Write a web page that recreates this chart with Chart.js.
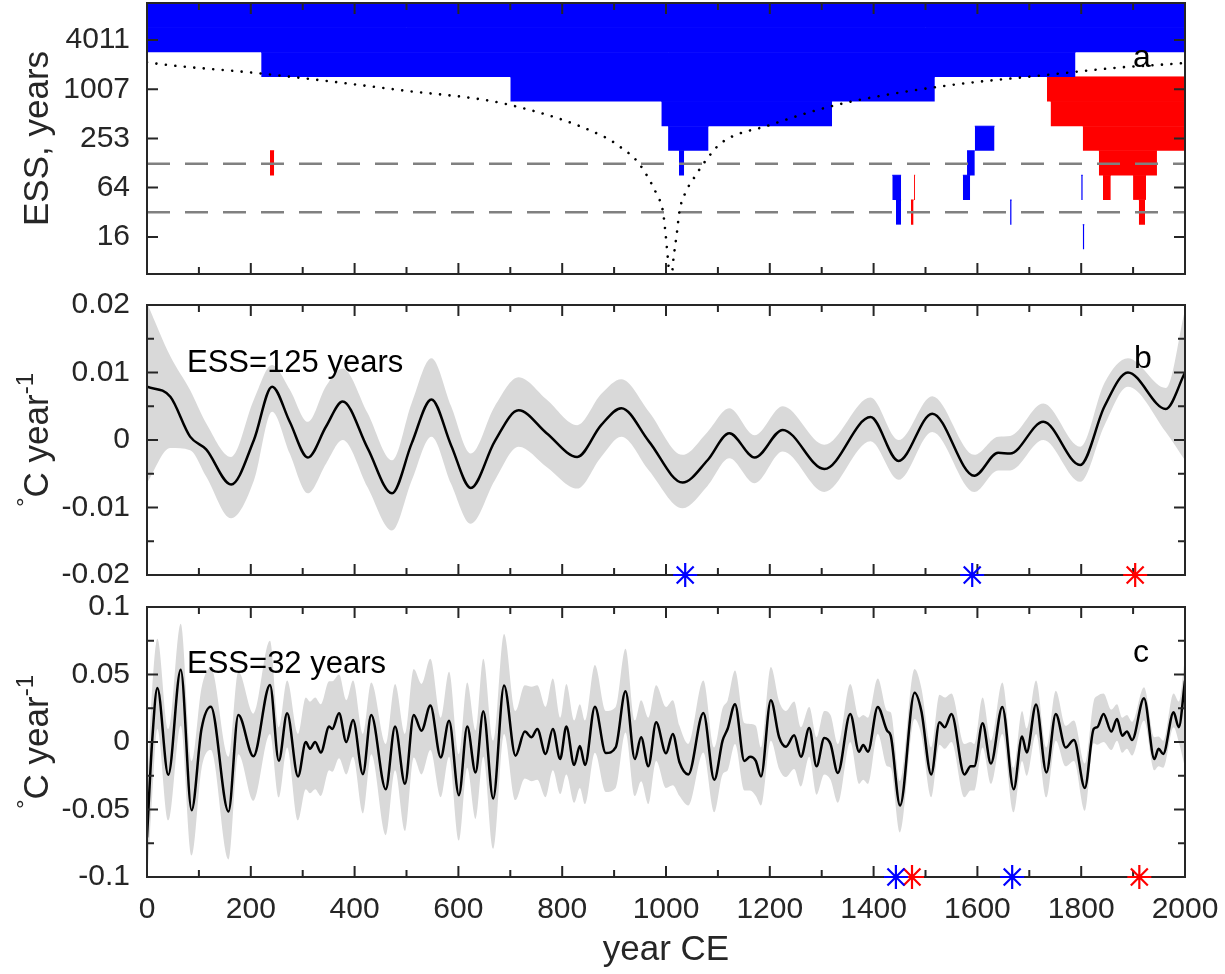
<!DOCTYPE html>
<html>
<head>
<meta charset="utf-8">
<script src="https://cdn.jsdelivr.net/npm/chart.js@4.4.1/dist/chart.umd.min.js"></script>
<style>
    body { margin: 0; background: #fff; }
    #wrap { position: relative; width: 1225px; height: 974px; background: #fff; }
    canvas { position: absolute; left: 0; }
</style>
</head>
<body>
<div id="wrap">
    <canvas id="pa" width="1225" height="290" style="top:0px"></canvas>
    <canvas id="pb" width="1225" height="300" style="top:290px"></canvas>
    <canvas id="pc" width="1225" height="384" style="top:590px"></canvas>
</div>
<script>
// ---------- panel a: ESS map ----------
const essTicks = [16, 64, 253, 1007, 4011];
// [row ESS, start year, end year]
const blueCells = [
    [8000, 0, 2000], [4011, 0, 2000], [2009, 220, 1789], [1007, 700, 1518],
    [505, 991, 1320], [253, 1004, 1082], [253, 1595, 1633],
    [127, 1025, 1035], [127, 1580, 1595],
    [64, 1436, 1453], [64, 1572, 1586], [64, 1800, 1803],
    [32, 1443, 1453], [32, 1663, 1666], [16, 1803, 1806]
];
const redCells = [
    [1007, 1734, 2000], [505, 1741, 2000], [253, 1803, 2000],
    [127, 1834, 1946], [127, 237, 245],
    [64, 1842, 1857], [64, 1900, 1925], [64, 1478, 1480],
    [32, 1911, 1923], [32, 1472, 1477]
];
const refEss = [125, 32];
const dotYears = [0, 14, 220, 484, 700, 884, 908, 944, 965, 982, 994, 999, 1004, 1009, 1014, 1021, 1026, 1036, 1055, 1076, 1105, 1198, 1328, 1525, 1740, 1875, 1990, 2000];
const dotEss = [2150, 2080, 1565, 990, 648, 260, 208, 135, 86, 53, 33, 18, 8.3, 4, 8.3, 18, 33, 53, 86, 135, 220, 366, 648, 1080, 1520, 1856, 2080, 2110];

// ---------- panel b: ESS = 125 years ----------
const bYears = [0, 45, 83, 114, 162, 206, 241, 275, 310, 345, 377, 425, 472, 510, 548, 586, 624, 670, 716, 770, 829, 875, 914, 967, 1032, 1080, 1122, 1171, 1225, 1305, 1394, 1448, 1513, 1594, 1640, 1663, 1727, 1798, 1845, 1890, 1963, 2000];
const bMean = [0.0079, 0.0064, 0.0005, -0.0014, -0.0066, 0.0000, 0.0079, 0.0027, -0.0026, 0.0020, 0.0057, -0.0012, -0.0079, -0.0005, 0.0060, -0.0008, -0.0071, -0.0002, 0.0044, 0.0010, -0.0025, 0.0022, 0.0047, -0.0002, -0.0063, -0.0030, 0.0010, -0.0026, 0.0015, -0.0043, 0.0034, -0.0031, 0.0039, -0.0053, -0.0019, -0.0020, 0.0027, -0.0037, 0.0050, 0.0100, 0.0046, 0.0100];
const bUpper = [0.0203, 0.0124, 0.0074, 0.0025, -0.0025, 0.0060, 0.0111, 0.0075, 0.0027, 0.0080, 0.0106, 0.0040, -0.0030, 0.0055, 0.0121, 0.0050, -0.0020, 0.0050, 0.0093, 0.0060, 0.0022, 0.0068, 0.0090, 0.0042, -0.0022, 0.0012, 0.0047, 0.0007, 0.0050, -0.0007, 0.0063, 0.0000, 0.0065, -0.0022, 0.0005, 0.0006, 0.0054, -0.0010, 0.0085, 0.0121, 0.0077, 0.0193];
const bLower = [-0.0064, -0.0012, -0.0015, -0.0054, -0.0116, -0.0060, 0.0042, -0.0020, -0.0079, -0.0035, 0.0000, -0.0070, -0.0134, -0.0060, 0.0005, -0.0065, -0.0124, -0.0060, -0.0010, -0.0040, -0.0072, -0.0025, 0.0005, -0.0045, -0.0101, -0.0068, -0.0027, -0.0064, -0.0017, -0.0077, -0.0002, -0.0059, 0.0012, -0.0077, -0.0045, -0.0045, 0.0000, -0.0062, 0.0022, 0.0079, 0.0012, -0.0030];
const bTicks = [-0.02, -0.01, 0, 0.01, 0.02];
const bMinor = [-0.015, -0.005, 0.005, 0.015];
const bBlueStars = [1037, 1590];
const bRedStars = [1904];

// ---------- panel c: ESS = 32 years ----------
const cYears = [0, 10, 20, 41, 65, 86, 105, 123, 157, 176, 205, 237, 254, 270, 291, 306, 314, 324, 335, 351,
    357, 370, 384, 397, 416, 432, 460, 478, 497, 514, 529, 546, 566, 582, 601, 617, 633, 648, 667, 688,
    710, 728, 741, 752, 768, 782, 796, 808, 823, 834, 844, 863, 884, 903, 922, 940, 952, 966, 981, 1000,
    1013, 1026, 1043, 1072, 1093, 1109, 1119, 1133, 1151, 1162, 1173, 1183, 1202, 1218, 1231, 1247, 1260, 1276, 1290, 1305,
    1317, 1331, 1355, 1372, 1380, 1389, 1408, 1426, 1433, 1451, 1479, 1492, 1511, 1527, 1537, 1550, 1575, 1587, 1594, 1610,
    1626, 1648, 1670, 1686, 1695, 1713, 1733, 1751, 1770, 1786, 1807, 1824, 1831, 1843, 1858, 1869, 1879, 1888, 1898, 1921,
    1941, 1949, 1958, 1978, 1988, 2000];
const cMean = [-0.0706, 0.001, 0.040, -0.0243, 0.0535, -0.0505, 0.0097, 0.0262, -0.0515, 0.020, -0.0106, 0.0423, -0.0139, 0.0213, -0.0255, 0.000, -0.005, 0.000, -0.0077, 0.0114,
    0.0097, 0.0213, 0.000, 0.0163, -0.0238, 0.020, -0.035, 0.0114, -0.031, 0.020, 0.0084, 0.027, -0.0114, 0.0158, -0.0394, 0.0114, -0.0225, 0.0228, -0.0418, 0.0418,
    -0.0101, 0.0077, 0.0035, 0.0097, -0.0089, 0.0097, -0.0126, 0.0114, -0.017, -0.003, -0.017, 0.0262, -0.0082, -0.004, 0.0376, -0.0126, 0.0035, -0.018, 0.0146, -0.0084,
    0.006, -0.015, -0.024, 0.0215, -0.028, 0.001, 0.010, 0.028, -0.014, -0.011, -0.014, -0.0255, 0.031, 0.0035, -0.0035, 0.005, -0.011, 0.0104, -0.018, 0.003,
    -0.0015, -0.023, 0.0208, -0.0072, -0.0022, -0.0072, 0.026, 0.0084, 0.0047, -0.047, 0.0365, 0.023, -0.024, 0.0146, 0.011, 0.0208, -0.024, -0.018, -0.018, 0.0139,
    -0.016, 0.026, -0.035, 0.004, -0.0077, 0.0277, -0.0225, 0.0208, -0.004, 0.0015, -0.034, 0.0097, 0.011, 0.0208, 0.0077, 0.017, 0.0047, 0.0077, 0.0015, 0.0324,
    -0.0126, -0.005, -0.0089, 0.022, 0.011, 0.0455];
const cUpper = [-0.035, 0.040, 0.0765, 0.0097, 0.0876, -0.014, 0.040, 0.055, -0.011, 0.052, 0.021, 0.075, 0.011, 0.0455, 0.006, 0.033, 0.030, 0.033, 0.028, 0.045,
    0.045, 0.050, 0.031, 0.0455, 0.006, 0.044, -0.0015, 0.043, 0.006, 0.054, 0.043, 0.0616, 0.018, 0.052, -0.009, 0.044, 0.0084, 0.0616, 0.001, 0.080,
    0.023, 0.042, 0.041, 0.042, 0.026, 0.047, 0.018, 0.043, 0.016, 0.028, 0.016, 0.057, 0.023, 0.026, 0.069, 0.016, 0.031, 0.018, 0.042, 0.026,
    0.031, 0.012, -0.0015, 0.0455, -0.004, 0.025, 0.031, 0.053, 0.014, 0.0134, 0.012, -0.004, 0.0555, 0.030, 0.023, 0.030, 0.011, 0.026, 0.0035, 0.023,
    0.020, -0.0015, 0.043, 0.018, 0.020, 0.018, 0.047, 0.023, 0.022, -0.029, 0.054, 0.040, -0.004, 0.035, 0.033, 0.036, -0.0015, 0.000, -0.0015, 0.033,
    0.001, 0.044, -0.019, 0.023, 0.010, 0.0455, -0.004, 0.038, 0.012, 0.016, -0.016, 0.030, 0.034, 0.036, 0.024, 0.028, 0.018, 0.020, 0.015, 0.0406,
    0.0035, 0.004, 0.001, 0.036, 0.030, 0.063];
const cLower = [-0.105, -0.040, 0.0097, -0.058, 0.012, -0.084, -0.020, -0.006, -0.087, -0.009, -0.0436, 0.006, -0.041, -0.004, -0.058, -0.035, -0.038, -0.035, -0.040, -0.021,
    -0.022, -0.012, -0.024, -0.011, -0.053, -0.009, -0.069, -0.021, -0.066, -0.0114, -0.024, -0.006, -0.041, -0.011, -0.073, -0.019, -0.057, -0.011, -0.079, 0.006,
    -0.043, -0.027, -0.029, -0.028, -0.041, -0.021, -0.0386, -0.024, -0.045, -0.034, -0.046, -0.008, -0.037, -0.034, 0.007, -0.040, -0.029, -0.046, -0.014, -0.034,
    -0.032, -0.040, -0.047, -0.0077, -0.052, -0.024, -0.021, -0.0015, -0.036, -0.036, -0.040, -0.047, 0.001, -0.020, -0.026, -0.020, -0.033, -0.011, -0.039, -0.024,
    -0.028, -0.045, 0.000, -0.031, -0.028, -0.031, 0.006, -0.018, -0.019, -0.067, 0.017, 0.005, -0.041, -0.002, -0.005, 0.000, -0.041, -0.036, -0.036, -0.004,
    -0.031, 0.006, -0.052, -0.014, -0.025, 0.006, -0.041, 0.001, -0.018, -0.014, -0.051, -0.001, -0.002, 0.000, -0.006, 0.001, -0.008, -0.005, -0.010, 0.016,
    -0.021, -0.018, -0.019, 0.011, 0.000, -0.019];
const cTicks = [-0.1, -0.05, 0, 0.05, 0.1];
const cMinor = [-0.075, -0.025, 0.025, 0.075];
const cBlueStars = [1443, 1667];
const cRedStars = [1474, 1912];

const yearLabels = [0, 200, 400, 600, 800, 1000, 1200, 1400, 1600, 1800, 2000];
const yearMinor = [100, 300, 500, 700, 900, 1100, 1300, 1500, 1700, 1900];

// ---------- drawing ----------
const AXIS = "#262626";
const FAM = '"Liberation Sans", Arial, Helvetica, sans-serif';
Chart.defaults.font.family = FAM;

const boxPlugin = {
    id: "box",
    afterDatasetDraw(chart, args, o) {
        if (args.meta.label !== o.after) return;
        const { ctx, chartArea: a, scales: { x, y } } = chart;
        ctx.save();
        ctx.strokeStyle = AXIS;
        ctx.lineWidth = 2;
        ctx.beginPath();
        const vx = (v, len) => {
            const p = x.getPixelForValue(v);
            ctx.moveTo(p, a.top); ctx.lineTo(p, a.top + len);
            ctx.moveTo(p, a.bottom); ctx.lineTo(p, a.bottom - len);
        };
        const hy = (v, len) => {
            const p = y.getPixelForValue(v);
            ctx.moveTo(a.left, p); ctx.lineTo(a.left + len, p);
            ctx.moveTo(a.right, p); ctx.lineTo(a.right - len, p);
        };
        yearLabels.forEach(v => vx(v, 11));
        yearMinor.forEach(v => vx(v, 7));
        o.yMajor.forEach(v => hy(v, 11));
        (o.yMinor || []).forEach(v => hy(v, 7));
        ctx.stroke();
        ctx.strokeRect(a.left, a.top, a.right - a.left, a.bottom - a.top);
        ctx.restore();
    }
};

const notesPlugin = {
    id: "notes",
    afterDraw(chart, args, o) {
        const { ctx, chartArea: a } = chart;
        ctx.save();
        // rotated y title, with superscript parts
        let total = 0;
        o.title.forEach(p => {
            ctx.font = (p.sup ? 24 : 35) + "px " + FAM;
            p.w = ctx.measureText(p.t).width;
            total += p.w;
        });
        ctx.translate(48, (a.top + a.bottom) / 2);
        ctx.rotate(-Math.PI / 2);
        ctx.fillStyle = AXIS;
        ctx.textBaseline = "alphabetic";
        ctx.textAlign = "left";
        let pos = -total / 2;
        o.title.forEach(p => {
            ctx.font = (p.sup ? 24 : 35) + "px " + FAM;
            ctx.fillText(p.t, pos, p.sup ? -15 : 0);
            pos += p.w;
        });
        ctx.restore();

        ctx.save();
        ctx.fillStyle = "#000";
        ctx.textBaseline = "alphabetic";
        ctx.textAlign = "left";
        o.texts.forEach(n => {
            ctx.font = n.size + "px " + FAM;
            ctx.fillText(n.t, a.left + n.dx, a.top + n.dy);
        });
        ctx.restore();
    }
};

function fmt(v) {
    return v === 0 ? "0" : String(+Number(v).toFixed(4));
}

function yAxis(type, min, max, ticks) {
    return {
        type, min, max,
        afterFit: s => { s.width = 147; s.paddingTop = 0; s.paddingBottom = 0; },
        afterBuildTicks: s => { s.ticks = ticks.map(v => ({ value: v })); },
        ticks: { font: { size: 30 }, color: AXIS, padding: 17, autoSkip: false, callback: v => fmt(v) },
        grid: { display: false, drawTicks: false },
        border: { display: false }
    };
}

const hiddenX = { type: "linear", min: 0, max: 2000, display: false };

function options(pad, x, y, box, notes) {
    return {
        responsive: false,
        animation: false,
        events: [],
        layout: { padding: pad },
        plugins: { legend: { display: false }, tooltip: { enabled: false }, box, notes },
        scales: { x, y }
    };
}

function pts(xs, ys) {
    return xs.map((x, i) => ({ x, y: ys[i] }));
}

function cellSet(c, color) {
    const [ess, x0, x1] = c;
    const half = Math.sqrt(1.9948);
    return {
        label: "cell",
        data: [{ x: x0, y: ess * half }, { x: x1, y: ess * half }],
        fill: { value: ess / half },
        backgroundColor: color,
        borderColor: color,
        borderWidth: 1,
        pointRadius: 0,
        order: 10
    };
}

function starSet(years, yv, color) {
    return {
        label: "star",
        data: years.map(x => ({ x, y: yv })),
        showLine: false,
        pointStyle: "star",
        pointRadius: 12,
        pointBorderColor: color,
        pointBorderWidth: 2.2,
        borderColor: color,
        clip: false,
        order: 0
    };
}

function bandSets(xs, mean, up, lo) {
    return [
        { label: "mean", data: pts(xs, mean), borderColor: "#000", borderWidth: 2.5, pointRadius: 0, fill: false, cubicInterpolationMode: "monotone", order: 1 },
        { label: "upper", data: pts(xs, up), borderColor: "rgba(0,0,0,0)", borderWidth: 0, backgroundColor: "#d9d9d9", pointRadius: 0, fill: "+1", cubicInterpolationMode: "monotone", order: 3 },
        { label: "lower", data: pts(xs, lo), borderColor: "rgba(0,0,0,0)", borderWidth: 0, pointRadius: 0, fill: false, cubicInterpolationMode: "monotone", order: 4 }
    ];
}

// panel a
new Chart(document.getElementById("pa"), {
    type: "line",
    data: {
        datasets: [
            { label: "dots", data: pts(dotYears, dotEss), borderColor: "#000", borderWidth: 2.6, borderDash: [0.01, 9.5], borderCapStyle: "round", pointRadius: 0, fill: false, cubicInterpolationMode: "monotone", order: 1 },
            ...refEss.map(v => ({ label: "ref", data: [{ x: 0, y: v }, { x: 2000, y: v }], borderColor: "#808080", borderWidth: 2.5, borderDash: [23, 15], pointRadius: 0, fill: false, order: 2 })),
            ...blueCells.map(c => cellSet(c, "#0000ff")),
            ...redCells.map(c => cellSet(c, "#ff0000"))
        ]
    },
    plugins: [boxPlugin, notesPlugin],
    options: options(
        { top: 3, right: 40, bottom: 16, left: 0 },
        hiddenX,
        yAxis("logarithmic", 5.68, 11300, essTicks),
        { after: "dots", yMajor: essTicks },
        { title: [{ t: "ESS, years" }], texts: [{ t: "a", dx: 986, dy: 64, size: 32 }] }
    )
});

// panel b
new Chart(document.getElementById("pb"), {
    type: "line",
    data: {
        datasets: [
            starSet(bBlueStars, -0.02, "#0000ff"),
            starSet(bRedStars, -0.02, "#ff0000"),
            ...bandSets(bYears, bMean, bUpper, bLower)
        ]
    },
    plugins: [boxPlugin, notesPlugin],
    options: options(
        { top: 15, right: 40, bottom: 15, left: 0 },
        hiddenX,
        yAxis("linear", -0.02, 0.02, bTicks),
        { after: "mean", yMajor: bTicks, yMinor: bMinor },
        {
            title: [{ t: "°", sup: true }, { t: "C year" }, { t: "-1", sup: true }],
            texts: [{ t: "ESS=125 years", dx: 40, dy: 67, size: 31 }, { t: "b", dx: 987, dy: 63, size: 32 }]
        }
    )
});

// panel c
new Chart(document.getElementById("pc"), {
    type: "line",
    data: {
        datasets: [
            starSet(cBlueStars, -0.1, "#0000ff"),
            starSet(cRedStars, -0.1, "#ff0000"),
            ...bandSets(cYears, cMean, cUpper, cLower)
        ]
    },
    plugins: [boxPlugin, notesPlugin],
    options: options(
        { top: 17, right: 40, bottom: 0, left: 0 },
        {
            type: "linear", min: 0, max: 2000,
            afterFit: s => { s.height = 97; s.paddingLeft = 0; s.paddingRight = 0; },
            afterBuildTicks: s => { s.ticks = yearLabels.map(v => ({ value: v })); },
            ticks: { font: { size: 30 }, color: AXIS, padding: 15, maxRotation: 0, autoSkip: false, callback: v => String(v) },
            grid: { display: false, drawTicks: false },
            border: { display: false },
            title: { display: true, text: "year CE", font: { size: 35 }, color: AXIS, padding: { top: 0, bottom: 3 } }
        },
        yAxis("linear", -0.1, 0.1, cTicks),
        { after: "mean", yMajor: cTicks, yMinor: cMinor },
        {
            title: [{ t: "°", sup: true }, { t: "C year" }, { t: "-1", sup: true }],
            texts: [{ t: "ESS=32 years", dx: 40, dy: 66, size: 31 }, { t: "c", dx: 986, dy: 55, size: 32 }]
        }
    )
});
</script>
</body>
</html>
